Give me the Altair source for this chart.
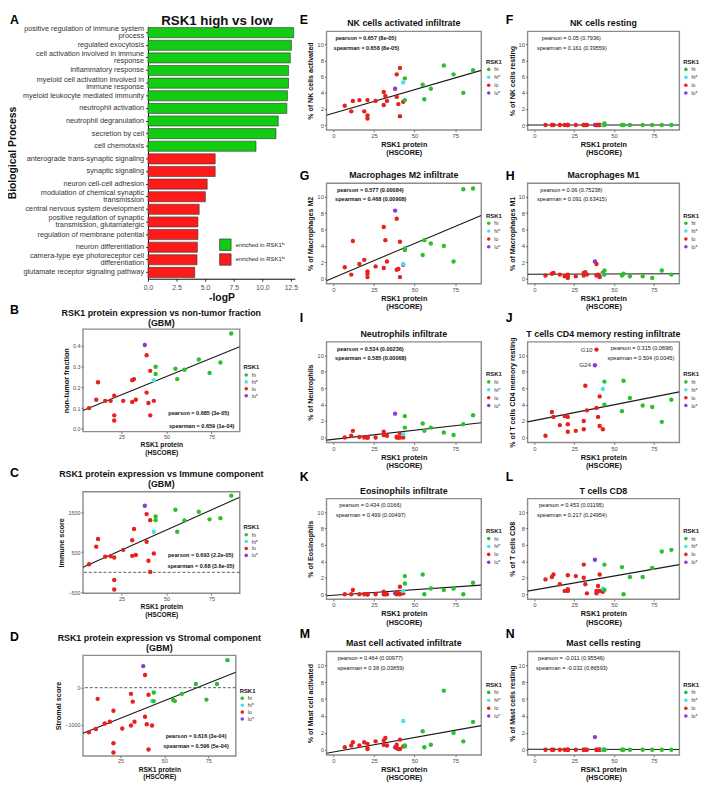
import altair as alt
import pandas as pd

FONT = "Liberation Sans"

# ---------------- Panel A data ----------------
bp_terms = [
    "positive regulation of immune system|process",
    "regulated exocytosis",
    "cell activation involved in immune|response",
    "inflammatory response",
    "myeloid cell activation involved in|immune response",
    "myeloid leukocyte mediated immunity",
    "neutrophil activation",
    "neutrophil degranulation",
    "secretion by cell",
    "cell chemotaxis",
    "anterograde trans-synaptic signaling",
    "synaptic signaling",
    "neuron cell-cell adhesion",
    "modulation of chemical synaptic|transmission",
    "central nervous system development",
    "positive regulation of synaptic|transmission, glutamatergic",
    "regulation of membrane potential",
    "neuron differentiation",
    "camera-type eye photoreceptor cell|differentiation",
    "glutamate receptor signaling pathway",
]
bp_logp = [12.75, 12.55, 12.45, 12.3, 12.3, 12.2, 12.15, 11.4, 11.2, 9.45,
           5.88, 5.88, 5.18, 5.02, 4.48, 4.37, 4.37, 4.32, 4.29, 4.09]
legend_hi = "enriched in RSK1\u02b0\u2071"
legend_lo = "enriched in RSK1\u02e1\u1d52"
bp_set = [legend_hi] * 10 + [legend_lo] * 10

# ---------------- Scatter data (30 GBM samples) ----------------
hscore = [7, 11, 12, 16, 19, 21, 21, 21, 26, 31, 31, 32, 33, 38, 39, 39, 40, 41, 41, 43,
          43, 44, 44, 55, 56, 60, 68, 74, 80, 86]
rsk1_group = ["lo"] * 13 + ["lo*"] + ["lo"] * 6 + ["hi*"] + ["hi"] * 9
sample_tag = [""] * 13 + ["G24", "G10"] + [""] * 15

non_tumor = [0.10, 0.14, 0.225, 0.135, 0.135, 0.16, 0.065, 0.04, 0.135, 0.235, 0.13, 0.24, 0.14,
             0.405, 0.355, 0.175, 0.125, 0.28, 0.065, 0.135, 0.235, 0.30, 0.265, 0.29, 0.24,
             0.285, 0.335, 0.27, 0.32, 0.46]
immune = [200, 640, 830, 390, 400, 370, -190, -430, 560, 800, 410, 1080, 430, 1660, 1450, 760,
          290, 1300, 10, 470, 1010, 1390, 1300, 1560, 1010, 1290, 1510, 1320, 1350, 1910]
stromal = [-1200, -1110, -300, -960, -915, -620, -1490, -1740, -1095, -165, -1015, -375, -915,
           580, 340, -780, -980, -190, -1660, -1015, -360, -130, -360, -330, -360, -165, 100,
           -320, 100, 740]
nk_act = [2.4, 1.7, 3.0, 3.1, 1.7, 3.1, 1.2, 0.8, 3.0, 4.1, 2.5, 3.6, 3.0, 4.5, 6.3, 3.5, 2.6,
          7.1, 1.1, 2.9, 5.3, 5.8, 3.1, 5.0, 3.2, 4.5, 7.4, 6.3, 4.0, 6.8]
nk_rest = [0.0] * 21 + [0.2] + [0.0] * 8
mac_m2 = [1.4, 0.5, 4.6, 1.8, 2.3, 0.9, 0.2, 0.6, 1.5, 6.3, 1.3, 4.7, 2.1, 8.3, 7.3, 1.1, 1.2,
          4.5, 0.2, 1.7, 1.8, 3.7, 3.5, 2.9, 4.7, 4.3, 4.0, 2.1, 10.9, 11.0]
mac_m1 = [0.4, 0.6, 0.7, 0.5, 0.3, 0.5, 0.1, 0.3, 0.3, 0.7, 0.4, 0.8, 0.5, 2.1, 1.8, 0.4, 0.5,
          0.3, 0.2, 0.7, 0.5, 1.0, 0.5, 0.4, 0.6, 0.3, 0.3, 0.1, 1.0, 0.5]
neutro = [0.0, 0.2, 0.8, 0.05, 0.0, 0.0, 0.0, 0.0, 0.0, 0.7, 0.3, 0.3, 0.2, 2.9, 0.1, 0.0, 0.0,
          0.5, 0.0, 0.0, 0.4, 2.6, 1.2, 1.7, 0.8, 1.2, 0.6, 0.3, 1.6, 2.7]
cd4_mem = [0.2, 3.1, 2.5, 1.5, 2.6, 2.5, 1.6, 0.7, 0.8, 1.0, 2.0, 6.3, 3.3, 8.8, 10.7, 3.6, 2.5,
           5.0, 1.4, 1.0, 5.9, 6.8, 4.0, 3.2, 6.9, 4.8, 3.9, 3.7, 1.9, 4.6]
eosin = [0.0, 0.0, 0.5, 0.0, 0.0, 0.0, 0.0, 0.0, 0.0, 0.3, 0.0, 0.0, 0.0, 0.1, 0.0, 0.2, 0.1,
         0.9, 0.0, 0.1, 0.4, 2.2, 1.3, 2.4, 0.0, 0.7, 0.5, 0.7, 0.0, 1.4]
cd8 = [1.8, 2.1, 2.4, 1.2, 0.4, 2.3, 0.6, 0.4, 2.2, 3.6, 2.0, 1.2, 0.1, 4.2, 0.4, 0.1, 1.0, 2.4,
       0.4, 0.3, 0.7, 3.6, 0.5, 3.3, 0.0, 2.1, 2.1, 3.2, 5.2, 5.4]
mast_act = [0.3, 0.5, 0.9, 0.5, 0.9, 0.7, 0.2, 0.1, 1.0, 1.1, 0.6, 1.4, 0.5, 0.3, 0.6, 0.2, 0.1,
            1.2, 0.1, 0.4, 3.4, 0.5, 0.4, 2.2, 0.3, 0.6, 7.0, 2.0, 1.0, 3.3]
mast_rest = [0.0] * 13 + [1.5] + [0.0] * 16

stats = {
    "B": ["pearson = 0.685 (3e-05)", "spearman = 0.659 (1e-04)"],
    "C": ["pearson = 0.693 (2.2e-05)", "spearman = 0.68 (3.6e-05)"],
    "D": ["pearson = 0.616 (3e-04)", "spearman = 0.596 (5e-04)"],
    "E": ["pearson = 0.657 (8e-05)", "spearman = 0.658 (8e-05)"],
    "F": ["pearson = 0.05 (0.7936)", "spearman = 0.161 (0.39559)"],
    "G": ["pearson = 0.577 (0.00084)", "spearman = 0.468 (0.00908)"],
    "H": ["pearson = 0.06 (0.75238)", "spearman = 0.091 (0.63415)"],
    "I": ["pearson = 0.534 (0.00236)", "spearman = 0.585 (0.00068)"],
    "J": ["pearson = 0.315 (0.0898)", "spearman = 0.504 (0.0045)"],
    "K": ["pearson = 0.434 (0.0166)", "spearman = 0.499 (0.00497)"],
    "L": ["pearson = 0.453 (0.01195)", "spearman = 0.217 (0.24954)"],
    "M": ["pearson = 0.464 (0.00977)", "spearman = 0.38 (0.03859)"],
    "N": ["pearson = -0.011 (0.95546)", "spearman = -0.032 (0.86593)"],
}

df = pd.DataFrame({
    "hscore": hscore, "group": rsk1_group, "tag": sample_tag,
    "non_tumor": non_tumor, "immune": immune, "stromal": stromal,
    "nk_act": nk_act, "nk_rest": nk_rest, "mac_m2": mac_m2, "mac_m1": mac_m1,
    "neutro": neutro, "cd4_mem": cd4_mem, "eosin": eosin, "cd8": cd8,
    "mast_act": mast_act, "mast_rest": mast_rest,
})

GROUPS = ["hi", "hi*", "lo", "lo*"]
GCOLORS = ["#2dbf2d", "#47e4ea", "#e5221d", "#8b3ad6"]


def txt(s, x, y, size, weight="normal", align="left", baseline="top", color="#111111", opacity=1):
    return alt.Chart(pd.DataFrame({"t": [s]})).mark_text(
        align=align, baseline=baseline, fontSize=size, fontWeight=weight, font=FONT,
        color=color, opacity=opacity,
    ).encode(text="t:N", x=alt.value(x), y=alt.value(y))


def scatter(field, title, tys, ytitle, letter, lx, ly, w, h, xdom, xticks, ydom, yticks, yfmt,
            st, spos, sbold, legx, legy, legrow, spacer=None, zero=False, tags=False,
            left=False):
    xsz = 6.8 if left else 7.4
    ysz = 7.4 if left else 7.2
    lab = 5.5 if left else 6.0
    xenc = alt.X("hscore:Q", scale=alt.Scale(domain=xdom, nice=False, zero=False),
                 axis=alt.Axis(values=xticks, title=["RSK1 protein", "(HSCORE)"],
                               titleFontSize=xsz, titleFontWeight="bold", titleColor="#111111",
                               titlePadding=2, titleLineHeight=xsz + 1.0,
                               labelFontSize=lab, labelColor="#4d4d4d", labelPadding=1,
                               labelOverlap=False, labelFlush=False,
                               tickSize=2, tickColor="#555555", tickWidth=0.8,
                               domain=False, grid=False))
    yenc = alt.Y(f"{field}:Q", scale=alt.Scale(domain=ydom, nice=False, zero=False),
                 axis=alt.Axis(values=yticks, format=yfmt, title=ytitle,
                               titleFontSize=ysz, titleFontWeight="bold", titleColor="#111111",
                               titlePadding=2, labelFontSize=lab, labelColor="#4d4d4d",
                               labelPadding=1, labelOverlap=False, labelFlush=False,
                               tickSize=2, tickColor="#555555", tickWidth=0.8,
                               domain=False, grid=False))
    base = alt.Chart(df)
    layers = []
    if zero:
        layers.append(alt.Chart(pd.DataFrame({"z": [0]})).mark_rule(
            strokeDash=[3, 2], color="#333333", strokeWidth=0.8).encode(y=alt.Y("z:Q")))
    fit = base.transform_regression("hscore", field, extent=xdom).mark_line(
        color="#1a1a1a", strokeWidth=1.1, clip=True).encode(x=xenc, y=yenc)
    pts = base.mark_circle(size=20, opacity=1).encode(
        x=xenc, y=yenc,
        color=alt.Color("group:N", scale=alt.Scale(domain=GROUPS, range=GCOLORS),
                        legend=alt.Legend(orient="none", legendX=legx, legendY=legy,
                                          title="RSK1", titleFontSize=6, titleFontWeight="bold",
                                          titleColor="#111111", titlePadding=2,
                                          labelFontSize=5.3, labelColor="#333333",
                                          symbolSize=13, symbolType="circle",
                                          symbolStrokeWidth=0, rowPadding=legrow,
                                          labelOffset=3, padding=0)))
    layers += [fit, pts]
    if tags:
        layers.append(base.transform_filter("datum.tag != ''").mark_text(
            align="right", baseline="middle", dx=-4, fontSize=6.3, font=FONT,
            color="#333333").encode(x=xenc, y=yenc, text="tag:N"))
    ssz = 5.6
    layers.append(txt(st[0], spos[0][0], spos[0][1], ssz, sbold, "center", "middle"))
    layers.append(txt(st[1], spos[1][0], spos[1][1], ssz, sbold, "center", "middle"))
    for line, ty in zip(title, tys):
        layers.append(txt(line, w / 2, ty, 9, "bold", "center", "alphabetic"))
    layers.append(txt(letter, lx, ly, 12.5, "bold", "left", "top", "black"))
    if spacer is not None:
        layers.append(txt(".", 0, spacer, 4, "normal", "left", "top", "white", 0))
    return alt.layer(*layers).properties(
        width=w, height=h,
        view=alt.ViewBackground(stroke="#8c8c8c", strokeWidth=1.4),
    )


# ---------------- Panel A ----------------
AX = 66       # position of A's category axis inside its view
AW = 149      # bar-area width
AH = 256      # bar-area height
AD = 5        # upward shift of A's plotting area inside its view
dfA = pd.DataFrame({"term": bp_terms, "logp": bp_logp, "set": bp_set})
dfA["l1"] = [t.split("|")[0] for t in bp_terms]
dfA["l2"] = [t.split("|")[1] if "|" in t else "" for t in bp_terms]

yA = alt.Y("term:N", sort=bp_terms,
           scale=alt.Scale(paddingInner=0.2, paddingOuter=0.1, range=[-AD, AH - AD]),
           axis=alt.Axis(title="Biological Process", titleFontSize=10.5,
                         titleFontWeight="bold", titleColor="#111111", titlePadding=129,
                         labels=False, labelPadding=0, offset=-AX,
                         domainColor="black", tickColor="#333333", tickSize=2.5))
barsA = alt.Chart(dfA).mark_bar(stroke="#333333", strokeWidth=0.6).encode(
    x=alt.X("logp:Q", scale=alt.Scale(domain=[0, 12.85], nice=False, range=[AX, AX + AW]),
            axis=alt.Axis(values=[0, 2.5, 5, 7.5, 10, 12.5], format=".1f", title="-logP",
                          titleFontSize=10.5, titleFontWeight="bold", titleColor="#111111",
                          titlePadding=3, labelFontSize=7, labelColor="#4d4d4d",
                          labelOverlap=False, labelFlush=False, offset=-AD,
                          domainColor="black", tickColor="#333333", tickSize=2.5, grid=False)),
    y=yA,
    fill=alt.Fill("set:N", scale=alt.Scale(domain=[legend_hi, legend_lo],
                                           range=["#12cc12", "#ff1a1a"]),
                  legend=alt.Legend(orient="none", legendX=AX + 72, legendY=215 - AD,
                                    title=None,
                                    symbolType="square", symbolSize=135,
                                    symbolStrokeColor="#333333", symbolStrokeWidth=0.7,
                                    labelFontSize=6, labelColor="#222222", rowPadding=0,
                                    labelOffset=4, padding=0)),
)
labA = dict(align="right", baseline="middle", fontSize=7.4, font=FONT, color="#333333")
lab1 = alt.Chart(dfA).transform_filter("datum.l2 == ''").mark_text(**labA).encode(
    y=yA, x=alt.value(AX - 4), text="l1:N")
lab2a = alt.Chart(dfA).transform_filter("datum.l2 != ''").mark_text(dy=-3.6, **labA).encode(
    y=yA, x=alt.value(AX - 4), text="l1:N")
lab2b = alt.Chart(dfA).transform_filter("datum.l2 != ''").mark_text(dy=3.6, **labA).encode(
    y=yA, x=alt.value(AX - 4), text="l2:N")

panelA = alt.layer(
    barsA, lab1, lab2a, lab2b,
    txt("RSK1 high vs low", 136, -1.5 - AD, 13.5, "bold", "center", "alphabetic"),
    txt("A", -74, -17, 12.5, "bold", "left", "top", "black"),
).properties(width=AX + AW, height=AH)

XL = [3.6, 90.7]
XR = [-4.3, 91]
YR = [-0.6, 11.65]
YT = [0, 2, 4, 6, 8, 10]
XT = [0, 25, 50, 75]

panelB = scatter("non_tumor", ["RSK1 protein expression vs non-tumor fraction", "(GBM)"],
                 [-13, -3], "non-tumor fraction", "B", -74, -25, 159, 104, XL, [25, 50, 75],
                 [-0.013, 0.482], [0, 0.1, 0.2, 0.3, 0.4], ".1f", stats["B"],
                 [(117.5, 85), (120.5, 98.7)], "bold", 163, 36, 1, left=True)
panelC = scatter("immune", ["RSK1 protein expression vs Immune component", "(GBM)"],
                 [-15, -5], "Immune score", "C", -74, -25, 159, 103, XL, [25, 50, 75],
                 [-520, 2010], [-500, 0, 500, 1000, 1500, 2000], "d", stats["C"],
                 [(119.5, 64.7), (119.7, 75.3)], "bold", 163, 33, 1, spacer=-34, zero=True,
                 left=True)
panelD = scatter("stromal", ["RSK1 protein expression vs Stromal component", "(GBM)"],
                 [-14, -4], "Stromal score", "D", -74, -25, 155, 102, XL, [25, 50, 75],
                 [-1830, 870], [-1000, 0], "d", stats["D"],
                 [(114.8, 82), (114.7, 92.5)], "bold", 159, 33, 1, spacer=-36, zero=True,
                 left=True)

sp = [(44.5, 7), (45, 16.5)]
MW = 157
RW = 154
TY = [-5]
panelE = scatter("nk_act", ["NK cells activated infiltrate"], TY, "% of NK cells activated",
                 "E", -27, -17, MW, 100, XR, XT, YR, YT, "d", stats["E"],
                 [(40, 7), (40.5, 16.5)], "bold", MW + 5, 28, 2)
panelG = scatter("mac_m2", ["Macrophages M2 infiltrate"], TY, "% of Macrophages M2", "G",
                 -27, -13, MW, 102, XR, XT, YR, YT, "d", stats["G"], sp, "bold", MW + 5, 30, 2,
                 spacer=-25)
panelI = scatter("neutro", ["Neutrophils infiltrate"], TY, "% of Neutrophils", "I",
                 -27, -30, MW, 102, XR, XT, YR, YT, "d", stats["I"], sp, "bold", MW + 5, 30, 2)
panelK = scatter("eosin", ["Eosinophils infiltrate"], TY, "% of Eosinophils", "K",
                 -27, -27.6, MW, 102, XR, XT, YR, YT, "d", stats["K"], sp, "normal", MW + 5, 30,
                 2)
panelM = scatter("mast_act", ["Mast cell activated infiltrate"], TY, "% of Mast cell activated",
                 "M", -27, -23.7, MW, 105, XR, XT, YR, YT, "d", stats["M"], sp, "normal", MW + 5,
                 31, 2)

panelF = scatter("nk_rest", ["NK cells resting"], TY, "% of NK cells resting", "F",
                 -22, -17, RW, 100, XR, XT, YR, YT, "d", stats["F"], sp, "normal", RW + 4, 28, 2)
panelH = scatter("mac_m1", ["Macrophages M1"], TY, "% of Macrophages M1", "H",
                 -22, -13, RW, 102, XR, XT, YR, YT, "d", stats["H"], sp, "normal", RW + 4, 30, 2,
                 spacer=-25)
panelJ = scatter("cd4_mem", ["T cells CD4 memory resting infiltrate"], TY,
                 "% of T cells CD4 memory resting", "J",
                 -22, -30, RW, 102, XR, XT, YR, YT, "d", stats["J"],
                 [(116, 6), (115, 16)], "normal", RW + 4, 30, 2, tags=True)
panelL = scatter("cd8", ["T cells CD8"], TY, "% of T cells CD8", "L",
                 -22, -27.6, RW, 102, XR, XT, YR, YT, "d", stats["L"], sp, "normal", RW + 4, 30,
                 2)
panelN = scatter("mast_rest", ["Mast cells resting"], TY, "% of Mast cells resting", "N",
                 -22, -23.7, RW, 105, XR, XT, YR, YT, "d", stats["N"], sp, "normal", RW + 4, 31,
                 2)


def indep(c):
    return c.resolve_scale(color="independent", fill="independent").resolve_legend(
        color="independent", fill="independent")


left = indep(alt.vconcat(panelA, panelB, panelC, panelD, spacing=0))
mid = indep(alt.vconcat(panelE, panelG, panelI, panelK, panelM, spacing=0))
right = indep(alt.vconcat(panelF, panelH, panelJ, panelL, panelN, spacing=0))

chart = indep(alt.hconcat(left, mid, right, spacing=1)).properties(
    padding={"left": 0, "top": 0, "right": 0, "bottom": 0}
).configure_view(stroke=None).configure_axis(
    labelFont=FONT, titleFont=FONT, grid=False
).configure_legend(labelFont=FONT, titleFont=FONT).configure_title(font=FONT)

chart.save("out.html", embed_options={"renderer": "svg", "actions": False})
